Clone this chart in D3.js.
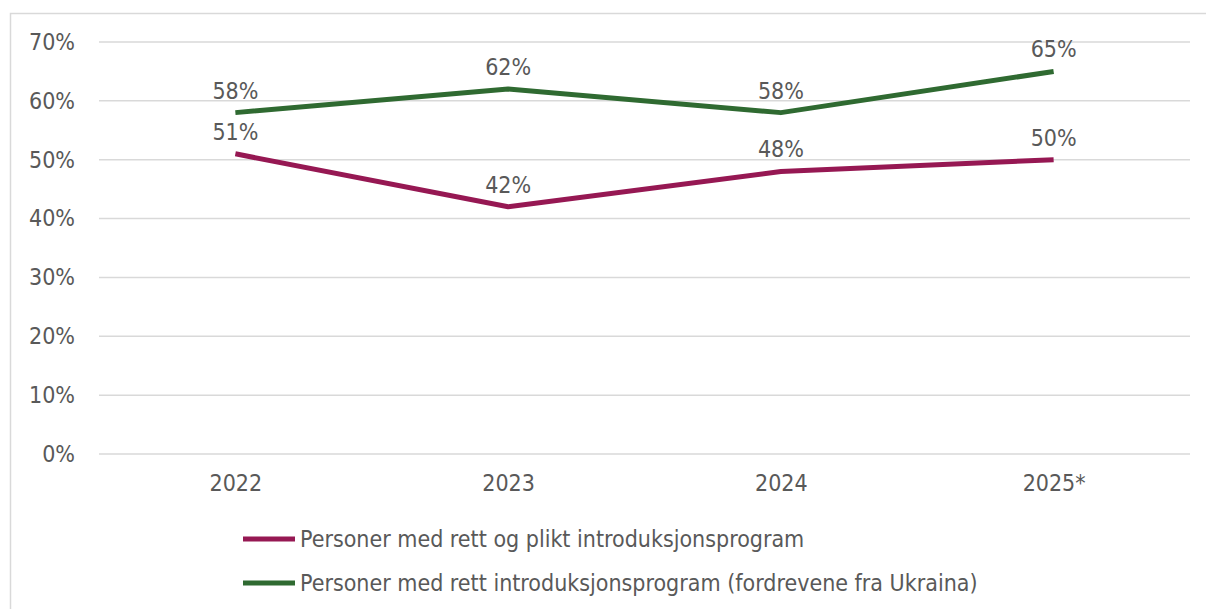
<!DOCTYPE html>
<html>
<head>
<meta charset="utf-8">
<script src="https://cdn.jsdelivr.net/npm/d3@7"></script>
<style>
  body { margin: 0; background: #fff; }
  svg { display: block; }
  text { font-family: "DejaVu Sans Condensed", "DejaVu Sans", sans-serif; fill: #595959; }
</style>
</head>
<body>
<div id="chart"></div>
<script>
// chart data
const years = ["2022", "2023", "2024", "2025*"];
const pliktValues = [0.51, 0.42, 0.48, 0.50];
const ukrainaValues = [0.58, 0.62, 0.58, 0.65];
const seriesNames = [
  "Personer med rett og plikt introduksjonsprogram",
  "Personer med rett introduksjonsprogram (fordrevene fra Ukraina)"
];
const seriesColors = ["#961853", "#2f6a31"];
const yTicks = [0, 0.1, 0.2, 0.3, 0.4, 0.5, 0.6, 0.7];

const W = 1206, H = 609;
const plot = { left: 99, right: 1190, top: 42, bottom: 454 };
const fontSize = "23px";

const svg = d3.select("#chart").append("svg")
  .attr("width", W)
  .attr("height", H);

// outer chart border (runs off the right / bottom edge)
svg.append("rect")
  .attr("x", 10.5).attr("y", 13.5)
  .attr("width", W + 10).attr("height", H + 10)
  .attr("fill", "none")
  .attr("stroke", "#d9d9d9")
  .attr("stroke-width", 1.5);

const x = d3.scalePoint()
  .domain(years)
  .range([plot.left, plot.right])
  .padding(0.5);

const y = d3.scaleLinear()
  .domain([0, 0.7])
  .range([plot.bottom, plot.top]);

// gridlines
svg.append("g")
  .selectAll("line")
  .data(yTicks)
  .enter()
  .append("line")
    .attr("x1", plot.left)
    .attr("x2", plot.right)
    .attr("y1", d => y(d))
    .attr("y2", d => y(d))
    .attr("stroke", "#d9d9d9")
    .attr("stroke-width", 1.5);

// y axis
const yAxis = svg.append("g")
  .attr("transform", "translate(" + plot.left + ",0)")
  .call(d3.axisLeft(y)
        .tickValues(yTicks)
        .tickFormat(d3.format(".0%"))
        .tickSize(0)
        .tickPadding(24));
yAxis.select(".domain").remove();
yAxis.selectAll("text")
  .style("font-size", fontSize)
  .attr("fill", "#595959");

// x axis
const xAxis = svg.append("g")
  .attr("transform", "translate(0," + plot.bottom + ")")
  .call(d3.axisBottom(x).tickSize(0).tickPadding(21));
xAxis.select(".domain").remove();
xAxis.selectAll("text")
  .style("font-size", fontSize)
  .attr("fill", "#595959");

// lines
const line = d3.line()
  .x((d, i) => x(years[i]))
  .y(d => y(d));

const allSeries = [pliktValues, ukrainaValues];

allSeries.forEach(function(vals, s) {
  svg.append("path")
    .datum(vals)
    .attr("d", line)
    .attr("fill", "none")
    .attr("stroke", seriesColors[s])
    .attr("stroke-width", 5)
    .attr("stroke-linejoin", "round");

  svg.append("g")
    .selectAll("text")
    .data(vals)
    .enter()
    .append("text")
      .attr("x", (d, i) => x(years[i]))
      .attr("y", d => y(d) - 22)
      .attr("text-anchor", "middle")
      .attr("dominant-baseline", "central")
      .style("font-size", fontSize)
      .text(d => d3.format(".0%")(d));
});

// legend
const legend = svg.append("g")
  .selectAll("g")
  .data(seriesNames)
  .enter()
  .append("g")
    .attr("transform", (d, i) => "translate(243," + (539 + i * 44) + ")");

legend.append("line")
  .attr("x1", 0).attr("x2", 52)
  .attr("y1", 0).attr("y2", 0)
  .attr("stroke", (d, i) => seriesColors[i])
  .attr("stroke-width", 5);

legend.append("text")
  .attr("x", 57)
  .attr("y", 0)
  .attr("dominant-baseline", "central")
  .style("font-size", fontSize)
  .text(d => d);
</script>
</body>
</html>
